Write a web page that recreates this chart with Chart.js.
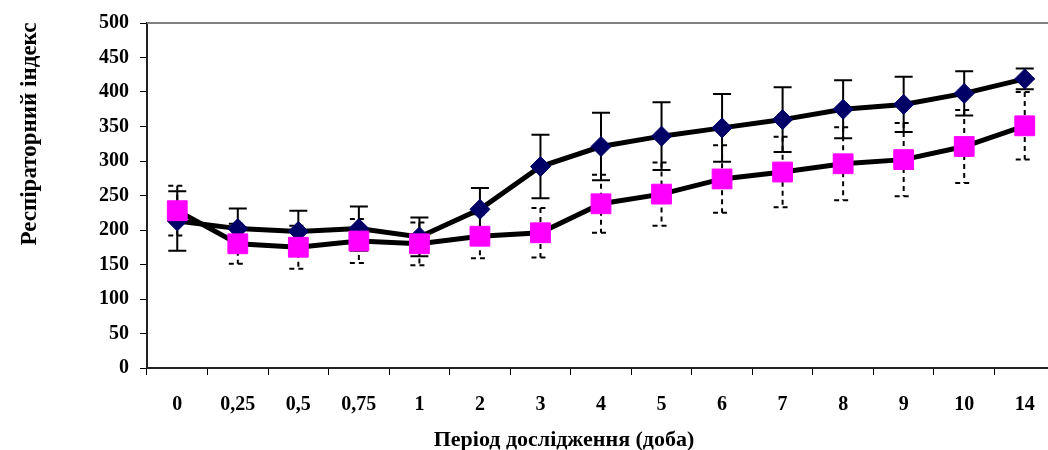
<!DOCTYPE html>
<html>
<head>
<meta charset="utf-8">
<script src="https://cdn.jsdelivr.net/npm/chart.js@4"></script>
<style>
  html, body { margin: 0; padding: 0; background: #fff; overflow: hidden; }
  #wrap { width: 1055px; height: 450px; }
</style>
</head>
<body>
<div id="wrap"><canvas id="resp" width="1055" height="450"></canvas></div>
<script>
// categories (period, days)
var periods = ['0', '0,25', '0,5', '0,75', '1', '2', '3', '4', '5', '6', '7', '8', '9', '10', '14'];

// series 1 - navy diamonds, solid error bars
var navyValues = [213, 202, 198, 202, 190, 230, 292, 321, 336, 348, 360, 375, 382, 398, 419];
var navyErrors = [43, 29, 30, 32, 28, 31, 46, 49, 49, 49, 47, 42, 40, 32, 15];

// series 2 - magenta squares, dashed error bars
var pinkValues = [228, 180, 175, 184, 180, 191, 196, 238, 252, 274, 284, 296, 302, 321, 351];
var pinkErrors = [36, 29, 31, 32, 31, 32, 36, 42, 46, 49, 51, 53, 53, 53, 49];

var yTicks = [0, 50, 100, 150, 200, 250, 300, 350, 400, 450, 500];

var yTitle = 'Респіраторний індекс';
var xTitle = 'Період дослідження (доба)';

var serif = 'Liberation Serif, Times New Roman, serif';

var errorBars = {
    id: 'errorBars',
    beforeDatasetsDraw: function(chart) {
        var ctx = chart.ctx;
        var yScale = chart.scales.y;
        var sets = [
            { index: 0, errs: navyErrors, dash: [] },
            { index: 1, errs: pinkErrors, dash: [5, 4] }
        ];
        ctx.save();
        sets.forEach(function(s) {
            var meta = chart.getDatasetMeta(s.index);
            var vals = chart.data.datasets[s.index].data;
            ctx.strokeStyle = '#000';
            ctx.lineWidth = 2;
            ctx.setLineDash(s.dash);
            meta.data.forEach(function(pt, i) {
                var x = pt.x;
                var top = yScale.getPixelForValue(vals[i] + s.errs[i]);
                var bot = yScale.getPixelForValue(vals[i] - s.errs[i]);
                ctx.beginPath();
                ctx.moveTo(x, top);
                ctx.lineTo(x, bot);
                ctx.moveTo(x - 9, top);
                ctx.lineTo(x + 9, top);
                ctx.moveTo(x - 9, bot);
                ctx.lineTo(x + 9, bot);
                ctx.stroke();
            });
        });
        ctx.restore();
    },
    afterDraw: function(chart) {
        var ctx = chart.ctx;
        var area = chart.chartArea;
        ctx.save();
        // plot frame (top edge)
        ctx.strokeStyle = '#808080';
        ctx.lineWidth = 2;
        ctx.beginPath();
        ctx.moveTo(area.left, area.top);
        ctx.lineTo(area.right, area.top);
        ctx.stroke();
        // axis titles
        ctx.fillStyle = '#000';
        ctx.textAlign = 'center';
        ctx.textBaseline = 'alphabetic';
        ctx.font = 'bold 22px ' + serif;
        ctx.fillText(xTitle, 564, 446);
        ctx.font = 'bold 23px ' + serif;
        ctx.translate(36, 134);
        ctx.rotate(-Math.PI / 2);
        ctx.fillText(yTitle, 0, 0);
        ctx.restore();
    }
};

var ctx = document.getElementById('resp');
var respChart = new Chart(ctx, {
    type: 'line',
    data: {
        labels: periods,
        datasets: [
            {
                label: 'navy',
                data: navyValues,
                order: 1,
                borderColor: '#000',
                borderWidth: 5,
                fill: false,
                tension: 0,
                pointStyle: 'rectRot',
                pointRadius: 10,
                pointBackgroundColor: '#000066',
                pointBorderColor: '#000066',
                pointBorderWidth: 1
            },
            {
                label: 'pink',
                data: pinkValues,
                order: 0,
                borderColor: '#000',
                borderWidth: 5,
                fill: false,
                tension: 0,
                pointStyle: 'rect',
                pointRadius: 14,
                pointBackgroundColor: '#ff00ff',
                pointBorderColor: '#ff00ff',
                pointBorderWidth: 1
            }
        ]
    },
    options: {
        responsive: false,
        animation: false,
        layout: { autoPadding: false, padding: { top: 22, right: 0, left: 0, bottom: 0 } },
        plugins: {
            legend: { display: false },
            tooltip: { enabled: false }
        },
        scales: {
            x: {
                offset: true,
                grid: { offset: true, drawOnChartArea: false, tickLength: 7, color: '#000', lineWidth: 1 },
                border: { color: '#222', width: 2 },
                ticks: {
                    color: '#000',
                    font: { family: serif, size: 20, weight: 'bold' },
                    padding: 18,
                    maxRotation: 0,
                    autoSkip: false
                },
                afterFit: function(scale) { scale.height = 82; }
            },
            y: {
                min: 0,
                max: 500,
                afterBuildTicks: function(scale) {
                    scale.ticks = yTicks.map(function(v) { return { value: v }; });
                },
                grid: { drawOnChartArea: false, tickLength: 7, color: '#000', lineWidth: 1 },
                border: { color: '#222', width: 2 },
                ticks: {
                    color: '#000',
                    font: { family: serif, size: 20, weight: 'bold' },
                    padding: 11
                },
                afterFit: function(scale) { scale.width = 147; }
            }
        }
    },
    plugins: [errorBars]
});
</script>
</body>
</html>
